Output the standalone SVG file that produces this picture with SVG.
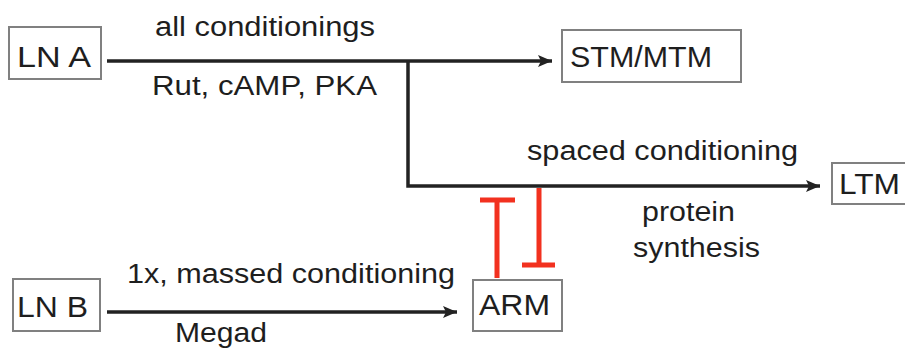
<svg xmlns="http://www.w3.org/2000/svg" width="905" height="356" viewBox="0 0 905 356">
<style>
.box{fill:#fff;stroke:#808080;stroke-width:2}
.t{font-family:"Liberation Sans",Arial,sans-serif;fill:#1e1e1e}
.bt{font-size:30px}
.lt{font-size:27px}
.ln{stroke:#222;stroke-width:3.5;fill:none}
.inh{stroke:#f2311f;stroke-width:5;fill:none}
</style>
<defs>
<marker id="ah" markerUnits="userSpaceOnUse" markerWidth="15" markerHeight="14" refX="14" refY="7" orient="auto">
<path d="M0,1 L14,7 L0,13 L3,7 z" fill="#222"/>
</marker>
</defs>
<g id="lnA"><rect class="box" x="9" y="27" width="92" height="52"/><text class="t bt" x="17" y="67" textLength="74" lengthAdjust="spacingAndGlyphs">LN A</text></g>
<g id="stm"><rect class="box" x="562" y="30" width="179" height="52"/><text class="t bt" x="570" y="67" textLength="142" lengthAdjust="spacingAndGlyphs">STM/MTM</text></g>
<g id="ltm"><rect class="box" x="832" y="163" width="80" height="41"/><text class="t bt" x="839" y="194" textLength="61" lengthAdjust="spacingAndGlyphs">LTM</text></g>
<g id="lnB"><rect class="box" x="13" y="279" width="87" height="52"/><text class="t bt" x="17" y="317" textLength="71" lengthAdjust="spacingAndGlyphs">LN B</text></g>
<g id="arm"><rect class="box" x="473" y="280" width="89" height="51"/><text class="t bt" x="479" y="315" textLength="71" lengthAdjust="spacingAndGlyphs">ARM</text></g>
<g id="connectors">
<line class="ln" x1="107" y1="61" x2="552" y2="61" marker-end="url(#ah)"/>
<polyline class="ln" points="408,61 408,186 820,186" marker-end="url(#ah)"/>
<line class="ln" x1="107" y1="312" x2="457" y2="312" marker-end="url(#ah)"/>
<path class="inh" d="M497,278 V200 M480,200 H515"/>
<path class="inh" d="M539,188 V265 M522,265 H555"/>
</g>
<g id="labels">
<text class="t lt" x="155" y="36" textLength="220" lengthAdjust="spacingAndGlyphs">all conditionings</text>
<text class="t lt" x="152" y="95" textLength="225" lengthAdjust="spacingAndGlyphs">Rut, cAMP, PKA</text>
<text class="t lt" x="527" y="160" textLength="271" lengthAdjust="spacingAndGlyphs">spaced conditioning</text>
<text class="t lt" x="642" y="221" textLength="93" lengthAdjust="spacingAndGlyphs">protein</text>
<text class="t lt" x="633" y="257" textLength="127" lengthAdjust="spacingAndGlyphs">synthesis</text>
<text class="t lt" x="127" y="283" textLength="328" lengthAdjust="spacingAndGlyphs">1x, massed conditioning</text>
<text class="t lt" x="175" y="342" textLength="92" lengthAdjust="spacingAndGlyphs">Megad</text>
</g>
</svg>
